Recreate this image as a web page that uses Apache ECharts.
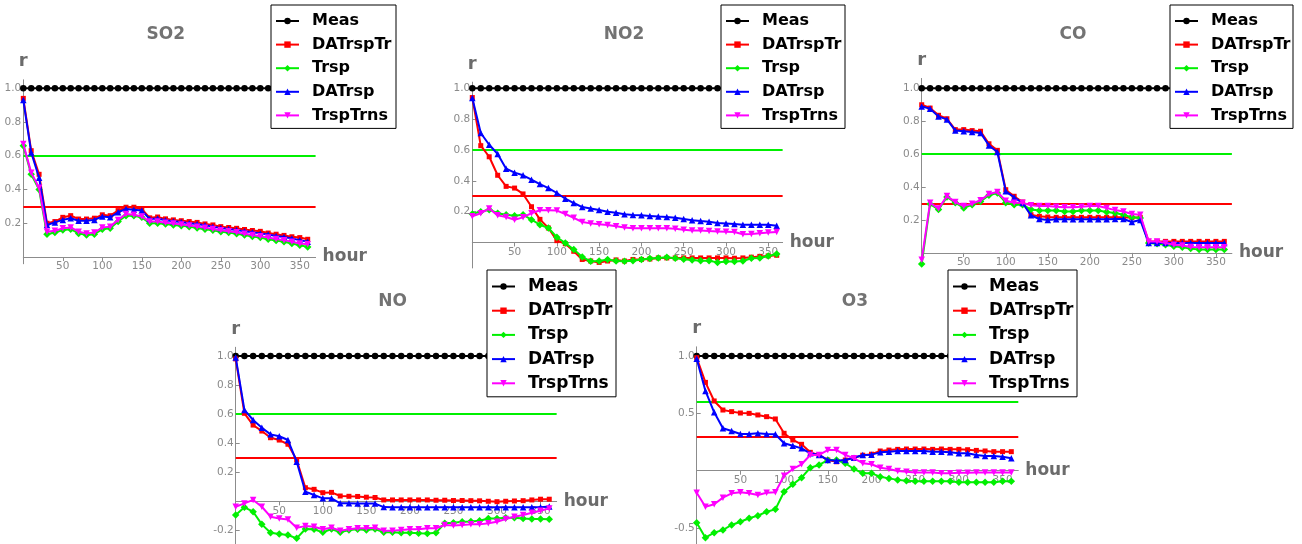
<!DOCTYPE html>
<html><head><meta charset="utf-8">
<script src="https://cdn.jsdelivr.net/npm/echarts@6/dist/echarts.min.js"></script>
<style>html,body{margin:0;padding:0;background:#fff}#c{width:1302px;height:544px}</style>
</head><body><div id="c"></div>
<script>
// ---------------- data ----------------
const hours = [0,10,20,30,40,50,60,70,80,90,100,110,120,130,140,150,160,170,180,190,200,210,220,230,240,250,260,270,280,290,300,310,320,330,340,350,360];
const seriesNames = ['Meas','DATrspTrns','Trsp','DATrsp','TrspTrns'];
const panelTitles = ['SO2','NO2','CO','NO','O3'];
const thresholdUpper = 0.6;
const thresholdLower = 0.3;
const xTickValues = [50,100,150,200,250,300,350];
const yTicksA = [0.2,0.4,0.6,0.8,1.0];
const yTicksNO = [-0.2,0.2,0.4,0.6,0.8,1.0];
const yTicksO3 = [-0.5,0.5,1.0];

const meas = [1,1,1,1,1,1,1,1,1,1,1,1,1,1,1,1,1,1,1,1,1,1,1,1,1,1,1,1,1,1,1,1,1,1,1,1,1];

const so2_DATrspTrns = [0.94,0.63,0.49,0.20,0.21,0.235,0.245,0.225,0.225,0.23,0.25,0.245,0.275,0.295,0.295,0.285,0.232,0.237,0.226,0.22,0.215,0.21,0.205,0.196,0.19,0.18,0.175,0.17,0.163,0.157,0.152,0.142,0.135,0.128,0.12,0.115,0.105];
const so2_Trsp = [0.66,0.49,0.40,0.135,0.145,0.16,0.165,0.14,0.13,0.135,0.165,0.17,0.21,0.245,0.245,0.235,0.2,0.2,0.195,0.19,0.185,0.18,0.172,0.165,0.158,0.15,0.145,0.138,0.13,0.122,0.115,0.105,0.098,0.09,0.08,0.07,0.06];
const so2_DATrsp = [0.93,0.62,0.47,0.19,0.205,0.22,0.23,0.215,0.215,0.22,0.24,0.235,0.265,0.285,0.28,0.275,0.225,0.228,0.218,0.212,0.207,0.2,0.195,0.188,0.18,0.172,0.166,0.16,0.153,0.147,0.14,0.133,0.125,0.118,0.11,0.1,0.09];
const so2_TrspTrns = [0.67,0.50,0.41,0.15,0.155,0.17,0.175,0.15,0.14,0.145,0.175,0.18,0.22,0.255,0.25,0.24,0.21,0.21,0.203,0.198,0.193,0.187,0.18,0.173,0.166,0.158,0.152,0.146,0.138,0.13,0.123,0.115,0.107,0.1,0.09,0.08,0.075];

const no2_DATrspTrns = [0.94,0.628,0.556,0.436,0.364,0.353,0.315,0.232,0.15,0.094,0.012,-0.008,-0.057,-0.11,-0.12,-0.129,-0.12,-0.113,-0.12,-0.11,-0.11,-0.107,-0.1,-0.1,-0.1,-0.1,-0.1,-0.1,-0.1,-0.1,-0.1,-0.102,-0.1,-0.095,-0.09,-0.087,-0.083];
const no2_Trsp = [0.185,0.2,0.213,0.19,0.18,0.174,0.18,0.148,0.115,0.094,0.034,-0.003,-0.046,-0.094,-0.122,-0.12,-0.11,-0.12,-0.122,-0.118,-0.11,-0.104,-0.1,-0.096,-0.102,-0.108,-0.113,-0.118,-0.118,-0.129,-0.124,-0.124,-0.12,-0.102,-0.1,-0.087,-0.075];
const no2_DATrsp = [0.937,0.71,0.634,0.574,0.479,0.453,0.436,0.407,0.379,0.353,0.321,0.284,0.256,0.23,0.22,0.211,0.2,0.193,0.183,0.178,0.176,0.172,0.168,0.166,0.16,0.152,0.145,0.139,0.135,0.126,0.124,0.12,0.115,0.115,0.115,0.115,0.109];
const no2_TrspTrns = [0.17,0.19,0.22,0.176,0.165,0.148,0.163,0.19,0.209,0.209,0.207,0.185,0.16,0.133,0.124,0.118,0.113,0.105,0.097,0.093,0.093,0.093,0.093,0.093,0.089,0.082,0.078,0.078,0.074,0.072,0.07,0.068,0.053,0.055,0.06,0.065,0.068];

const co_DATrspTrns = [0.90,0.88,0.836,0.815,0.749,0.749,0.743,0.739,0.663,0.623,0.384,0.344,0.309,0.232,0.222,0.218,0.216,0.216,0.216,0.216,0.216,0.216,0.216,0.216,0.216,0.214,0.216,0.07,0.07,0.07,0.07,0.07,0.07,0.07,0.07,0.07,0.07];
const co_Trsp = [-0.067,0.297,0.263,0.34,0.305,0.273,0.293,0.313,0.35,0.364,0.305,0.293,0.293,0.263,0.257,0.257,0.257,0.252,0.252,0.257,0.257,0.257,0.248,0.242,0.232,0.216,0.212,0.06,0.056,0.05,0.04,0.034,0.026,0.02,0.02,0.02,0.02];
const co_DATrsp = [0.89,0.876,0.828,0.811,0.743,0.739,0.735,0.729,0.653,0.613,0.374,0.337,0.303,0.228,0.206,0.2,0.204,0.204,0.204,0.204,0.204,0.204,0.204,0.206,0.206,0.188,0.2,0.06,0.06,0.06,0.06,0.06,0.06,0.06,0.06,0.06,0.06];
const co_TrspTrns = [-0.041,0.305,0.269,0.345,0.309,0.285,0.299,0.32,0.358,0.37,0.317,0.305,0.305,0.289,0.285,0.285,0.28,0.277,0.277,0.281,0.285,0.285,0.273,0.26,0.252,0.236,0.232,0.07,0.07,0.06,0.05,0.045,0.036,0.035,0.035,0.035,0.035];

const no_DATrspTrns = [0.98,0.606,0.525,0.484,0.438,0.422,0.393,0.285,0.094,0.083,0.06,0.062,0.037,0.035,0.034,0.029,0.027,0.01,0.01,0.01,0.01,0.01,0.01,0.008,0.008,0.006,0.006,0.005,0.004,0.001,-0.002,0.001,0.003,0.005,0.01,0.015,0.015];
const no_Trsp = [-0.094,-0.041,-0.071,-0.158,-0.215,-0.224,-0.231,-0.254,-0.19,-0.192,-0.213,-0.19,-0.213,-0.197,-0.192,-0.197,-0.19,-0.213,-0.213,-0.215,-0.215,-0.219,-0.22,-0.215,-0.151,-0.147,-0.14,-0.138,-0.133,-0.117,-0.117,-0.112,-0.112,-0.117,-0.121,-0.121,-0.123];
const no_DATrsp = [0.99,0.629,0.56,0.507,0.461,0.448,0.422,0.273,0.067,0.044,0.021,0.021,-0.013,-0.013,-0.015,-0.015,-0.015,-0.039,-0.04,-0.04,-0.04,-0.04,-0.04,-0.04,-0.04,-0.04,-0.04,-0.04,-0.04,-0.04,-0.04,-0.04,-0.04,-0.04,-0.04,-0.04,-0.035];
const no_TrspTrns = [-0.037,-0.014,0.01,-0.037,-0.105,-0.117,-0.124,-0.181,-0.17,-0.174,-0.192,-0.181,-0.201,-0.192,-0.185,-0.185,-0.181,-0.201,-0.201,-0.197,-0.192,-0.192,-0.185,-0.185,-0.162,-0.165,-0.162,-0.158,-0.158,-0.151,-0.14,-0.121,-0.105,-0.094,-0.078,-0.064,-0.048];

const o3_DATrspTrns = [0.985,0.77,0.608,0.529,0.515,0.503,0.5,0.486,0.471,0.451,0.326,0.268,0.23,0.16,0.137,0.093,0.078,0.093,0.113,0.135,0.144,0.172,0.18,0.186,0.189,0.189,0.189,0.186,0.189,0.186,0.186,0.183,0.177,0.172,0.166,0.166,0.166];
const o3_Trsp = [-0.453,-0.584,-0.54,-0.517,-0.473,-0.445,-0.415,-0.392,-0.358,-0.337,-0.183,-0.119,-0.061,0.026,0.05,0.093,0.093,0.065,0.015,-0.023,-0.023,-0.052,-0.067,-0.08,-0.088,-0.093,-0.093,-0.093,-0.093,-0.093,-0.1,-0.1,-0.1,-0.1,-0.1,-0.093,-0.093];
const o3_DATrsp = [0.975,0.695,0.509,0.37,0.346,0.32,0.32,0.326,0.32,0.318,0.239,0.218,0.195,0.152,0.137,0.093,0.087,0.093,0.113,0.137,0.14,0.16,0.166,0.172,0.172,0.172,0.172,0.166,0.166,0.16,0.152,0.152,0.137,0.128,0.128,0.122,0.108];
const o3_TrspTrns = [-0.192,-0.314,-0.293,-0.235,-0.197,-0.188,-0.197,-0.212,-0.192,-0.188,-0.044,0.015,0.056,0.137,0.137,0.18,0.18,0.137,0.108,0.065,0.056,0.026,0.015,-0.003,-0.009,-0.015,-0.015,-0.015,-0.023,-0.023,-0.018,-0.018,-0.015,-0.015,-0.015,-0.015,-0.015];

const panelData = [
  [meas, so2_DATrspTrns, so2_Trsp, so2_DATrsp, so2_TrspTrns],
  [meas, no2_DATrspTrns, no2_Trsp, no2_DATrsp, no2_TrspTrns],
  [meas, co_DATrspTrns, co_Trsp, co_DATrsp, co_TrspTrns],
  [meas, no_DATrspTrns, no_Trsp, no_DATrsp, no_TrspTrns],
  [meas, o3_DATrspTrns, o3_Trsp, o3_DATrsp, o3_TrspTrns]
];
const panelYTicks = [yTicksA, yTicksA, yTicksA, yTicksNO, yTicksO3];

// ---------------- layout & style ----------------
const layout = [
  {left:23.3, xPx:0.79,   xMax:370,   y0:257,   yPx:168.75, yMin:-0.04,  yMax:1.05, tx:165.7, ty:35,    lx:271,  ly:5,   lf:16, lw:83, lgap:7.6},
  {left:472.3,xPx:0.8456, xMax:367,   y0:242.5, yPx:154.2,  yMin:-0.165, yMax:1.04, tx:624,   ty:35,    lx:721,  ly:5,   lf:16, lw:82, lgap:7.6},
  {left:921.7,xPx:0.8406, xMax:369,   y0:252.9, yPx:164.6,  yMin:-0.07,  yMax:1.06, tx:1073,  ty:35,    lx:1170, ly:5,   lf:16, lw:81, lgap:7.6},
  {left:235.7,xPx:0.871,  xMax:368.5, y0:501.4, yPx:145.4,  yMin:-0.32,  yMax:1.06, tx:392.7, ty:301.7, lx:487,  ly:270, lf:17, lw:87, lgap:7.2},
  {left:696.7,xPx:0.8739, xMax:368,   y0:470.7, yPx:114.7,  yMin:-0.66,  yMax:1.08, tx:855,   ty:301.7, lx:948,  ly:270, lf:17, lw:87, lgap:7.2}
];
const colors = ['#000000','#ff0000','#00f000','#0000ff','#ff00ff'];
const symbols = ['circle','rect','diamond','triangle','triangle'];
const symRot = [0,0,0,0,180];
const symSize = [6.5,5,7.5,6.5,6.5];
const FONT = 'DejaVu Sans';
const AX = '#8c8c8c';

const grids=[], xAxes=[], yAxes=[], series=[], titles=[], legends=[];
layout.forEach((L,p)=>{
  grids.push({left:L.left, top:L.y0 - L.yMax*L.yPx, width:L.xMax*L.xPx, height:(L.yMax-L.yMin)*L.yPx,
    containLabel:false, outerBoundsMode:'none'});
  xAxes.push({gridIndex:p, type:'value', min:0, max:L.xMax, position:'bottom', offset:L.yMin*L.yPx,
    axisLine:{onZero:false, lineStyle:{color:AX, width:1}},
    axisTick:{show:true, customValues:xTickValues, length:4, lineStyle:{color:AX}},
    axisLabel:{customValues:xTickValues, fontSize:10.5, color:'#8a8a8a', margin:4, fontFamily:FONT, hideOverlap:false},
    splitLine:{show:false},
    name:'hour', nameLocation:'end', nameGap:7,
    nameTextStyle:{fontSize:17, fontWeight:'bold', color:'#6b6b6b', fontFamily:FONT}});
  yAxes.push({gridIndex:p, type:'value', min:L.yMin, max:L.yMax,
    axisLine:{onZero:true, lineStyle:{color:AX, width:1}},
    axisTick:{show:true, inside:true, customValues:panelYTicks[p], length:4, lineStyle:{color:AX}},
    axisLabel:{customValues:panelYTicks[p], fontSize:10.5, color:'#8a8a8a', margin:2, fontFamily:FONT,
      formatter:(v)=>Number(v).toFixed(1)},
    splitLine:{show:false},
    name:'r', nameLocation:'end', nameGap:9,
    nameTextStyle:{fontSize:18, fontWeight:'bold', color:'#6b6b6b', fontFamily:FONT}});
  titles.push({text:panelTitles[p], left:L.tx, top:L.ty-9, textAlign:'center', padding:0,
    textStyle:{fontSize:17, fontWeight:'bold', color:'#737373', fontFamily:FONT}});
  legends.push({orient:'vertical', left:L.lx, top:L.ly, data:seriesNames, selectedMode:false,
    backgroundColor:'#ffffff', borderColor:'#000000', borderWidth:1, borderRadius:0,
    padding:[8,1,5,4], itemWidth:23, itemHeight:8, itemGap:L.lgap, z:20,
    textStyle:{fontFamily:FONT, fontWeight:'bold', fontSize:L.lf, lineHeight:L.lf, color:'#000',
      width:L.lw, overflow:'truncate', ellipsis:'', padding:[0,0,0,8]}});
  panelData[p].forEach((arr,s)=>{
    const ser = {type:'line', name:seriesNames[s], xAxisIndex:p, yAxisIndex:p,
      data: hours.map((h,i)=>[h, arr[i]]),
      symbol:symbols[s], symbolSize:symSize[s], symbolRotate:symRot[s],
      lineStyle:{width:2, color:colors[s]}, itemStyle:{color:colors[s]},
      clip:false, animation:false, z:3+s, emphasis:{disabled:true}};
    if (s===0) {
      ser.markLine = {silent:true, symbol:['none','none'], label:{show:false}, animation:false, z:1,
        data:[{yAxis:thresholdUpper, lineStyle:{color:'#00f000', width:2, type:'solid'}},
              {yAxis:thresholdLower, lineStyle:{color:'#ff0000', width:2, type:'solid'}}]};
    }
    series.push(ser);
  });
});

const chart = echarts.init(document.getElementById('c'), null, {renderer:'canvas'});
chart.setOption({animation:false, backgroundColor:'#ffffff', title:titles, legend:legends,
  grid:grids, xAxis:xAxes, yAxis:yAxes, series:series});
</script></body></html>
